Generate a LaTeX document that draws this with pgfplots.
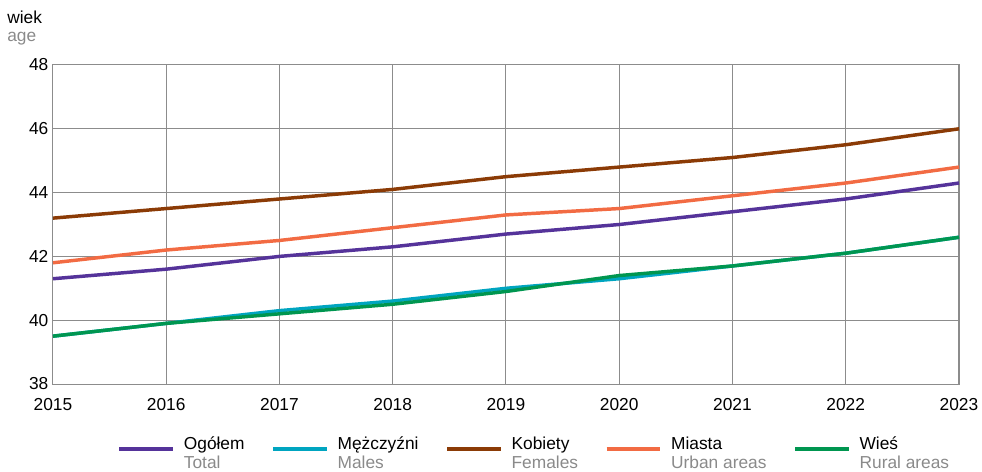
\documentclass[border=0pt]{standalone}
\usepackage{fontspec}
\setmainfont{Liberation Sans}
\usepackage{pgfplots}
\pgfplotsset{compat=1.18}

\definecolor{cTotal}{HTML}{55339A}
\definecolor{cMale}{HTML}{00A5C0}
\definecolor{cFemale}{HTML}{8B3B06}
\definecolor{cUrban}{HTML}{F26B43}
\definecolor{cRural}{HTML}{009650}
\definecolor{gridc}{HTML}{8C8C8C}
\definecolor{subc}{HTML}{8A8A8A}

\newcommand{\twol}[2]{\begin{tabular}{@{}l@{}}#1\\\textcolor{subc}{#2}\end{tabular}}

\begin{document}
\begin{tikzpicture}
\begin{axis}[
    name=ax,
    scale only axis,
    width=679.5pt, height=239.25pt,
    xmin=2015, xmax=2023,
    ymin=38, ymax=48,
    xtick={2015,...,2023},
    ytick={38,40,...,48},
    xticklabel style={/pgf/number format/1000 sep={}, yshift=-7pt},
    /pgf/number format/assume math mode=true,
    tick label style={font=\fontsize{13}{15}\selectfont, black},
    major tick length=0pt,
    grid=major,
    grid style={gridc, line width=0.75pt},
    axis line style={gridc, line width=0.75pt},
    every axis plot/.append style={line width=2.6pt, line join=round},
    legend style={
        draw=none, fill=none,
        at={(0.5,-0.147)}, anchor=north, xshift=21.5pt,
        font=\fontsize{13}{14}\selectfont,
        /tikz/every even column/.append style={column sep=18pt},
        cells={anchor=west},
    },
    legend columns=5,
    legend image code/.code={\draw[#1, line width=3pt] (0pt,0pt) -- (40pt,0pt); \path (45pt,0pt);},
    clip=false,
]
\addplot[cTotal] coordinates {
(2015,41.3) (2016,41.6) (2017,42.0) (2018,42.3) (2019,42.7)
(2020,43.0) (2021,43.4) (2022,43.8) (2023,44.3)};
\addlegendentry{\twol{Ogółem}{Total}}
\addplot[cMale] coordinates {
(2015,39.5) (2016,39.9) (2017,40.3) (2018,40.6) (2019,41.0)
(2020,41.3) (2021,41.7) (2022,42.1) (2023,42.6)};
\addlegendentry{\twol{Mężczyźni}{Males}}
\addplot[cFemale] coordinates {
(2015,43.2) (2016,43.5) (2017,43.8) (2018,44.1) (2019,44.5)
(2020,44.8) (2021,45.1) (2022,45.5) (2023,46.0)};
\addlegendentry{\twol{Kobiety}{Females}}
\addplot[cUrban] coordinates {
(2015,41.8) (2016,42.2) (2017,42.5) (2018,42.9) (2019,43.3)
(2020,43.5) (2021,43.9) (2022,44.3) (2023,44.8)};
\addlegendentry{\twol{Miasta}{Urban areas}}
\addplot[cRural] coordinates {
(2015,39.5) (2016,39.9) (2017,40.2) (2018,40.5) (2019,40.9)
(2020,41.4) (2021,41.7) (2022,42.1) (2023,42.6)};
\addlegendentry{\twol{Wieś}{Rural areas}}
\end{axis}
\node[anchor=north west, align=left, inner sep=0pt, font=\fontsize{13}{13.5}\selectfont]
  at ([xshift=-34.5pt, yshift=41pt]ax.north west) {wiek\\\textcolor{subc}{age}};
\pgfresetboundingbox
\path ([xshift=-39.75pt, yshift=48.75pt]ax.north west) rectangle ([xshift=17.25pt, yshift=-65.25pt]ax.south east);
\end{tikzpicture}
\end{document}
